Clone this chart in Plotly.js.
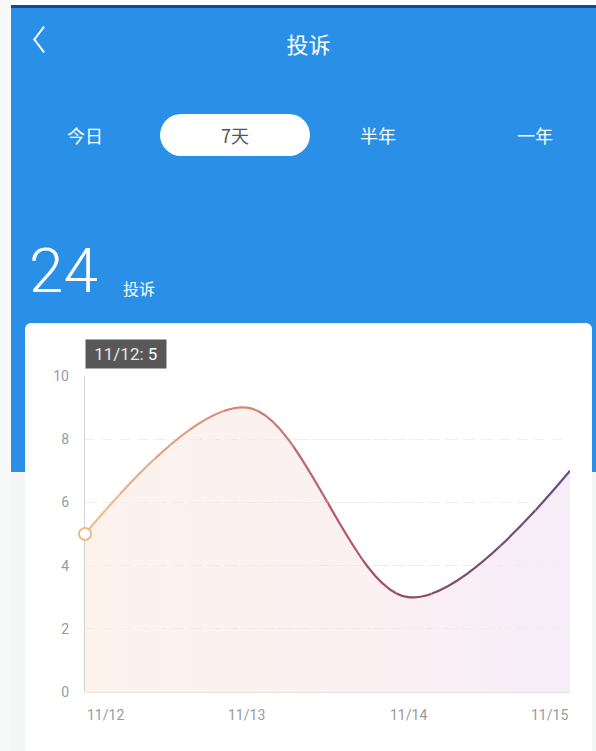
<!DOCTYPE html>
<html>
<head>
<meta charset="utf-8">
<script src="https://cdn.plot.ly/plotly-3.0.1.min.js"></script>
<style>
  html, body { margin:0; padding:0; width:596px; height:751px; overflow:hidden; background:#f4f6f6; font-family:"Noto Sans CJK SC", "Noto Sans", sans-serif; }
  #topwhite { position:absolute; left:0; top:0; width:596px; height:5px; background:#ffffff; }
  #leftwhite { position:absolute; left:0; top:0; width:11px; height:751px; background:#f7f9f9; }
  #header { position:absolute; left:11px; top:5px; width:585px; height:467px; background:#2a8fe7; border-top:3px solid #1b4694; box-sizing:border-box; }
  .hd { position:absolute; color:#ffffff; white-space:nowrap; }
  #back { left:24px; top:23px; width:15px; height:15px; border-left:2.5px solid #ffffff; border-bottom:2.5px solid #ffffff; transform:rotate(45deg) skew(8deg, 8deg); }
  #title { left:0; width:595px; text-align:center; top:19px; font-size:22px; }
  .tab { position:absolute; top:106px; width:150px; height:42px; line-height:42px; text-align:center; font-size:18px; color:#ffffff; }
  .tab.active { background:#ffffff; color:#555555; border-radius:21px; }
  #total { left:18px; top:226px; font-size:62px; font-weight:300; font-family:Roboto, "Noto Sans", sans-serif; }
  #totalLabel { left:112px; top:268px; font-size:16px; }
  #card { position:absolute; left:25px; top:323px; width:567px; height:440px; background:#ffffff; border-radius:6px; }
  #chart { position:absolute; left:25px; top:323px; width:567px; height:428px; }
</style>
</head>
<body>
<div id="topwhite"></div>
<div id="header">
  <div class="hd" id="back"></div>
  <div class="hd" id="title"></div>
  <div id="tabs"></div>
  <div class="hd" id="total"></div>
  <div class="hd" id="totalLabel"></div>
</div>
<div id="leftwhite"></div>
<div id="card"></div>
<div id="chart"></div>
<script>
// ---- data ----
const pageTitle = '投诉';
const tabLabels = ['今日', '7天', '半年', '一年'];
const activeTab = '7天';
const categories = ['11/12', '11/13', '11/14', '11/15'];
const values = [5, 9, 3, 7];
const yTicks = [0, 2, 4, 6, 8, 10];
const tooltipIndex = 0;

// ---- header ----
document.getElementById('title').textContent = pageTitle;
document.getElementById('total').textContent = String(values.reduce((a, b) => a + b, 0));
document.getElementById('totalLabel').textContent = pageTitle;
const tabCenters = [74, 224, 367, 524];
const tabsEl = document.getElementById('tabs');
tabLabels.forEach((t, i) => {
  const d = document.createElement('div');
  d.className = 'tab' + (t === activeTab ? ' active' : '');
  d.style.left = (tabCenters[i] - 75) + 'px';
  d.textContent = t;
  tabsEl.appendChild(d);
});

// ---- chart ----
const xIdx = categories.map((_, i) => i);
const xMax = categories.length - 1;
const yMax = yTicks[yTicks.length - 1];

// colour stops for the gradient line (style)
const stops = [[0, [239, 196, 146]], [0.33, [210, 132, 114]], [0.55, [178, 88, 104]], [0.68, [138, 76, 98]], [1, [104, 78, 134]]];
function colorAt(f) {
  for (let i = 0; i < stops.length - 1; i++) {
    const [f0, c0] = stops[i], [f1, c1] = stops[i + 1];
    if (f <= f1) {
      const t = (f - f0) / (f1 - f0);
      const c = c0.map((v, j) => Math.round(v + (c1[j] - v) * t));
      return 'rgb(' + c.join(',') + ')';
    }
  }
  return 'rgb(' + stops[stops.length - 1][1].join(',') + ')';
}

const traces = [{
  x: xIdx, y: values, type: 'scatter', mode: 'lines',
  line: { shape: 'spline', width: 0, color: 'rgba(0,0,0,0)' },
  fill: 'tozeroy',
  fillgradient: { type: 'horizontal', colorscale: [[0, 'rgba(250,222,206,0.38)'], [0.5, 'rgba(246,218,218,0.38)'], [1, 'rgba(236,214,240,0.45)']] },
  hoverinfo: 'skip', showlegend: false
}];

const N = 14;
const layout = {
  width: 567, height: 428,
  margin: { l: 60, r: 22, t: 53, b: 59 },
  paper_bgcolor: 'rgba(0,0,0,0)', plot_bgcolor: 'rgba(0,0,0,0)',
  showlegend: false, hovermode: false,
  font: { family: 'Roboto, "Noto Sans CJK SC", sans-serif', color: '#9a9a9a', size: 14 },
  xaxis: {
    type: 'linear', range: [0, xMax], domain: [0, 1], anchor: 'y',
    showgrid: false, zeroline: false, showticklabels: false, ticks: '',
    showline: false, fixedrange: true
  },
  yaxis: {
    range: [0, yMax], tickvals: yTicks, ticktext: yTicks.map(String),
    showgrid: true, gridcolor: '#eeeeee', griddash: 'dash', gridwidth: 1,
    zeroline: true, zerolinecolor: '#e2e2e2', zerolinewidth: 1,
    showline: true, linecolor: '#d4d4d4', linewidth: 1.2,
    ticks: '', ticklabelstandoff: 12, tickfont: { size: 14, color: '#9a9a9a' },
    anchor: 'x', fixedrange: true
  },
  annotations: [],
  shapes: []
};

for (let k = 0; k < N; k++) {
  const name = 'x' + (k + 2);
  layout['xaxis' + (k + 2)] = {
    type: 'linear', domain: [k / N, (k + 1) / N], range: [xMax * k / N, xMax * (k + 1) / N],
    anchor: 'y', visible: false, showgrid: false, zeroline: false, fixedrange: true
  };
  traces.push({
    x: xIdx, y: values, type: 'scatter', mode: 'lines', xaxis: name, yaxis: 'y',
    line: { shape: 'spline', width: 2.2, color: colorAt((k + 0.5) / N) },
    hoverinfo: 'skip', showlegend: false
  });
}
// highlighted point (hollow circle), drawn on the first slice so it sits above the line
traces.push({
  x: [xIdx[tooltipIndex]], y: [values[tooltipIndex]], type: 'scatter', mode: 'markers',
  xaxis: 'x2', yaxis: 'y', cliponaxis: false,
  marker: { size: 12, color: '#ffffff', line: { color: '#ebb98a', width: 2 } },
  hoverinfo: 'skip', showlegend: false
});

// x tick labels (first left-aligned, last right-aligned)
categories.forEach((c, i) => {
  layout.annotations.push({
    xref: 'x', yref: 'paper', x: i, y: 0, yanchor: 'top', yshift: -13,
    xanchor: i === 0 ? 'left' : (i === xMax ? 'right' : 'center'),
    text: c, showarrow: false, font: { size: 14, color: '#9a9a9a' }
  });
});
// tooltip
layout.annotations.push({
  xref: 'x', yref: 'y', x: xIdx[tooltipIndex], y: yMax, xanchor: 'left', yanchor: 'bottom', yshift: 7,
  text: '<span style="color:#e6e6e6">&nbsp;' + categories[tooltipIndex] + ': </span><span style="color:#ffffff">' + values[tooltipIndex] + '&nbsp;</span>',
  showarrow: false, bgcolor: '#585858', borderpad: 4, font: { size: 17, color: '#ffffff' }
});
layout.shapes.push({
  type: 'path', xref: 'x', yref: 'y', xsizemode: 'pixel', ysizemode: 'pixel',
  xanchor: xIdx[tooltipIndex], yanchor: yMax, path: 'M0,0 L0,8 L6,8 Z',
  fillcolor: '#585858', line: { width: 0 }, layer: 'above'
});

Plotly.newPlot('chart', traces, layout, { displayModeBar: false, staticPlot: true });
</script>
</body>
</html>
